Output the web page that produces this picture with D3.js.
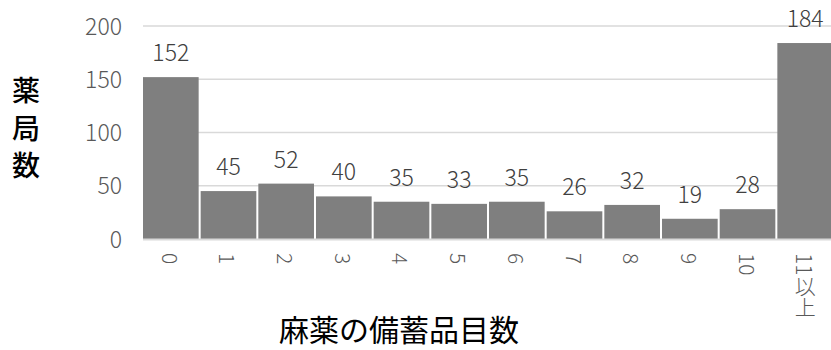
<!DOCTYPE html>
<html>
<head>
<meta charset="utf-8">
<script src="https://cdn.jsdelivr.net/npm/d3@7"></script>
<style>
  html, body { margin: 0; padding: 0; background: #fff; }
  svg { display: block; }
  text { font-family: "Noto Sans CJK JP", "Noto Sans", sans-serif; }
</style>
</head>
<body>
<svg id="chart" width="831" height="350"></svg>
<script>
// Number of narcotic items stocked (categories) and pharmacy counts
const categories = ["0", "1", "2", "3", "4", "5", "6", "7", "8", "9", "10", "11以上"];
const pharmacyCounts = [152, 45, 52, 40, 35, 33, 35, 26, 32, 19, 28, 184];
const yTicks = [0, 50, 100, 150, 200];
const yTitle = ["薬", "局", "数"];
const xTitle = "麻薬の備蓄品目数";

const svg = d3.select("#chart");

const x = d3.scaleBand()
  .domain(categories)
  .range([143, 833])
  .paddingInner(0.035)
  .paddingOuter(0);

const y = d3.scaleLinear()
  .domain([0, 200])
  .range([239, 26]);

// Horizontal gridlines
svg.append("g")
  .selectAll("line")
  .data(yTicks.filter(d => d > 0))
  .join("line")
  .attr("x1", 143).attr("x2", 831)
  .attr("y1", d => y(d)).attr("y2", d => y(d))
  .attr("stroke", "#d9d9d9")
  .attr("stroke-width", 1.5);

// Bars
svg.append("g")
  .selectAll("rect")
  .data(pharmacyCounts)
  .join("rect")
  .attr("x", (d, i) => x(categories[i]))
  .attr("width", x.bandwidth())
  .attr("y", d => y(d))
  .attr("height", d => y(0) - y(d))
  .attr("fill", "#7f7f7f");

// Baseline
svg.append("line")
  .attr("x1", 143).attr("x2", 831)
  .attr("y1", y(0) + 0.5).attr("y2", y(0) + 0.5)
  .attr("stroke", "#d9d9d9")
  .attr("stroke-width", 2);

// Value labels
svg.append("g")
  .selectAll("text")
  .data(pharmacyCounts)
  .join("text")
  .attr("x", (d, i) => x(categories[i]) + x.bandwidth() / 2)
  .attr("y", d => y(d) - 16)
  .attr("text-anchor", "middle")
  .attr("font-size", 23)
  .attr("font-weight", 300)
  .attr("fill", "#404040")
  .text(d => d);

// Y axis tick labels
const yAxis = d3.axisLeft(y).tickValues(yTicks).tickSize(0).tickPadding(0);
const yg = svg.append("g").attr("transform", "translate(122,0)").call(yAxis);
yg.select(".domain").remove();
yg.selectAll("text")
  .attr("font-family", "Noto Sans CJK JP, Noto Sans, sans-serif")
  .attr("font-size", 23)
  .attr("font-weight", 300)
  .attr("fill", "#595959")
  .attr("dy", "0.35em");

// X axis tick labels, set vertically
const xAxis = d3.axisBottom(x).tickSize(0).tickPadding(0);
const xg = svg.append("g").attr("transform", "translate(0,253)").call(xAxis);
xg.select(".domain").remove();
xg.selectAll("text")
  .attr("y", 0)
  .attr("dy", null)
  .attr("font-family", "Noto Sans CJK JP, Noto Sans, sans-serif")
  .attr("font-size", 21)
  .attr("font-weight", 300)
  .attr("fill", "#595959")
  .attr("text-anchor", "start")
  .style("writing-mode", "vertical-rl");

// Y axis title, one character per line
svg.append("g")
  .selectAll("text")
  .data(yTitle)
  .join("text")
  .attr("x", 26)
  .attr("y", (d, i) => 101 + i * 37.5)
  .attr("text-anchor", "middle")
  .attr("font-size", 28)
  .attr("font-weight", 500)
  .attr("fill", "#000")
  .text(d => d);

// X axis title
svg.append("text")
  .attr("x", 399)
  .attr("y", 341)
  .attr("text-anchor", "middle")
  .attr("font-size", 30)
  .attr("font-weight", 400)
  .attr("fill", "#000")
  .text(xTitle);
</script>
</body>
</html>
